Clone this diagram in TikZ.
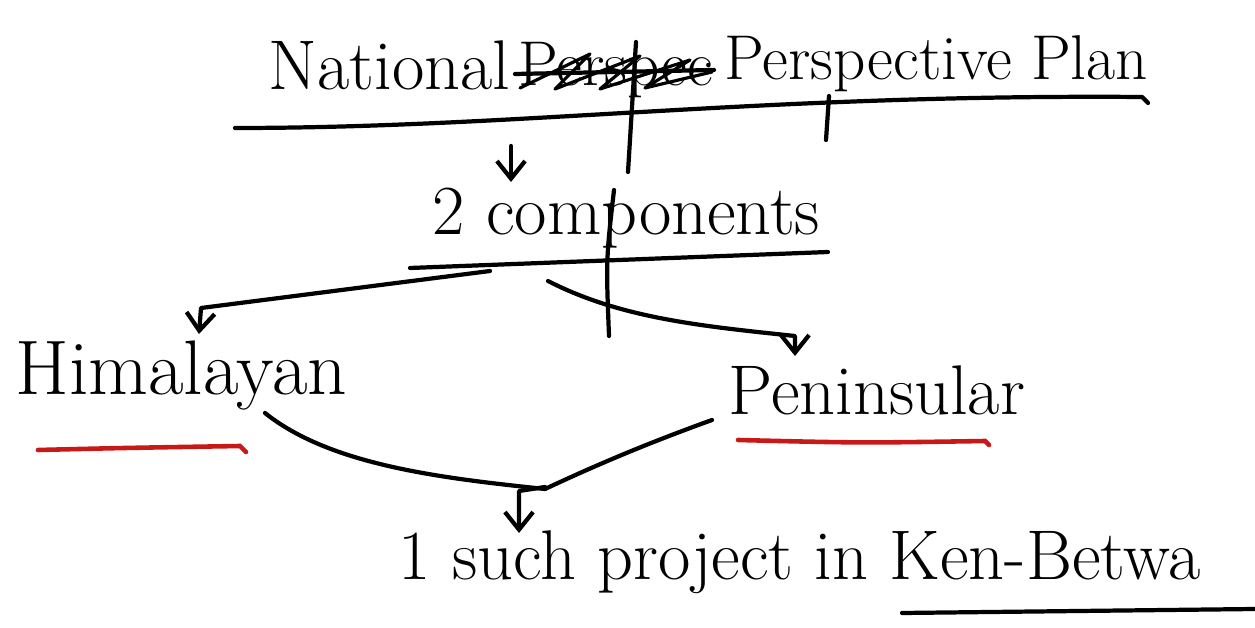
\documentclass[tikz,border=0pt]{standalone}
\usetikzlibrary{arrows.meta,positioning}
\definecolor{inkred}{RGB}{200,25,25}
\tikzset{
  ink/.style={line width=1.2pt, line cap=round, line join=round},
  redline/.style={inkred, line width=1.3pt, line cap=round},
  word/.style={inner sep=0pt, anchor=base west, font=\fontsize{20}{24}\selectfont},
  smallword/.style={word, font=\fontsize{18}{22}\selectfont},
  bigword/.style={word, font=\fontsize{22}{26}\selectfont},
}
\begin{document}
\begin{tikzpicture}[x=0.01cm,y=-0.01cm,>={Straight Barb[length=5pt,width=8pt]}]
  \clip (0,0) rectangle (1255,628);
  \fill[white] (0,0) rectangle (1255,628);

  % the notes
  \node[word] (nat) at (268,90) {National};
  \node[smallword] (struck) at (518,86) {Perspec};
  \node[smallword] (plan) at (724,80) {Perspective Plan};
  \node[word] (comp) at (432,235) {2 components};
  \node[bigword] (him) at (15,395) {Himalayan};
  \node[word] (pen) at (728,415) {Peninsular};
  \node[word] (ken) at (398,580) {1 such project in Ken-Betwa};

  % crossed-out word
  \draw[ink,line width=0.9pt] (520,88) -- (590,54) -- (555,89) -- (640,56)
    -- (600,89) -- (690,60) -- (645,88) -- (712,72);
  \draw[ink] (515,74) -- (714,70);

  % underlines
  \draw[ink] (235,128) .. controls (520,128) and (760,94) .. (1142,97) -- (1148,103);
  \draw[ink] (410,268) -- (828,252);
  \draw[ink] (902,613) -- (1255,609);
  \draw[redline] (38,450) .. controls (120,448) .. (240,446) -- (246,452);
  \draw[redline] (738,440) .. controls (860,443) .. (985,441) -- (989,445);

  % long strokes
  \draw[ink] (636,42) -- (628,172);
  \draw[ink] (829,96) -- (826,140);
  \draw[ink] (614,190) .. controls (606,260) .. (609,336);

  % branches
  \coordinate (top) at (511,146);
  \coordinate (lsplit) at (490,271);
  \coordinate (lbend) at (201,308);
  \coordinate (rsplit) at (548,281);
  \coordinate (rbend) at (795,336);
  \coordinate (lfoot) at (265,413);
  \coordinate (rfoot) at (712,420);
  \coordinate (meet) at (519,491);

  \draw[ink,->] (top) -- ++(0,36);
  \draw[ink,->] (lsplit) -- (lbend) -- ++(-2,26);
  \draw[ink,->] (rsplit) .. controls (620,318) and (700,326) .. (rbend) -- ++(0,20);
  \draw[ink] (lfoot) .. controls (330,465) and (440,478) .. (545,489);
  \draw[ink] (rfoot) .. controls (640,446) and (590,468) .. (545,489);
  \draw[ink,->] (545,487) -- (meet) -- ++(0,42);
\end{tikzpicture}
\end{document}
